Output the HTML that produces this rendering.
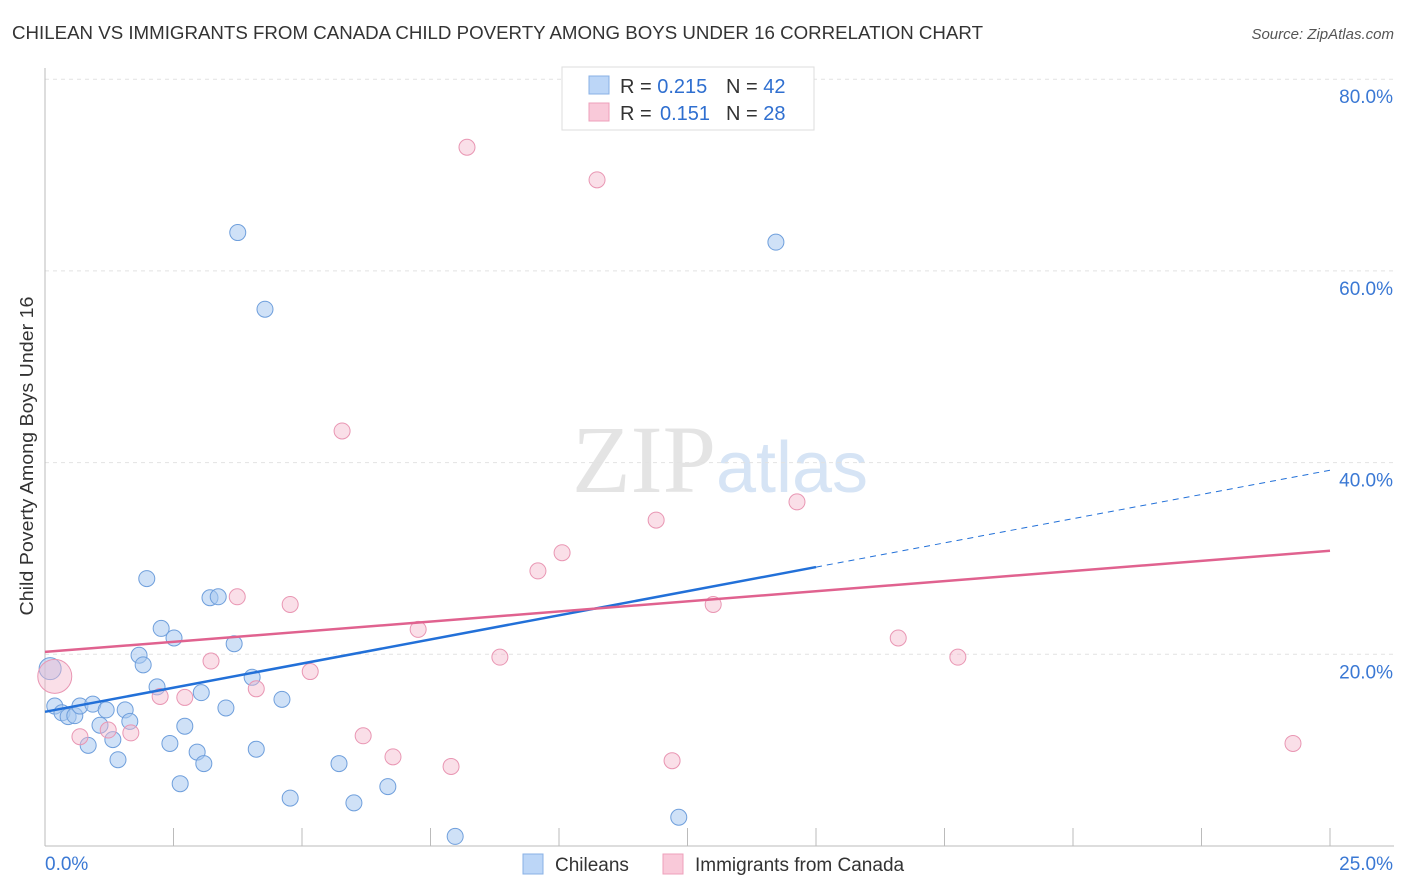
<!DOCTYPE html>
<html><head><meta charset="utf-8"><style>
body{margin:0;background:#fff;font-family:"Liberation Sans",sans-serif;}
svg{display:block}
</style></head><body>
<svg id="chart" width="1406" height="892">
<text x="12" y="39" font-size="18" fill="#333" textLength="971" lengthAdjust="spacingAndGlyphs">CHILEAN VS IMMIGRANTS FROM CANADA CHILD POVERTY AMONG BOYS UNDER 16 CORRELATION CHART</text>
<text x="1394" y="39" font-size="15" fill="#555" font-style="italic" text-anchor="end">Source: ZipAtlas.com</text>
<text x="720" y="492" font-size="96" fill="#e4e4e4" text-anchor="middle" font-family="Liberation Serif,serif"><tspan>ZIP</tspan><tspan fill="#d6e4f5" font-family="Liberation Sans,sans-serif" font-size="72">atlas</tspan></text>
<g id="grid"></g><g id="axes"></g><g id="marks"></g>
<text transform="translate(33,456) rotate(-90)" font-size="18" fill="#333" text-anchor="middle" textLength="319" lengthAdjust="spacingAndGlyphs">Child Poverty Among Boys Under 16</text>
<g>
<rect x="562" y="67" width="252" height="63" fill="#fff" stroke="#ddd"/>
<rect x="589" y="76" width="20" height="18" fill="#bcd6f7" stroke="#88b0e6"/>
<rect x="589" y="103" width="20" height="18" fill="#f9c9d9" stroke="#eea0bb"/>
<text x="620" y="93" font-size="20" fill="#333">R = <tspan fill="#2f6fd0">0.215</tspan><tspan x="726">N = </tspan><tspan fill="#2f6fd0">42</tspan></text>
<text x="620" y="120" font-size="20" fill="#333">R = <tspan x="660" fill="#2f6fd0">0.151</tspan><tspan x="726">N = </tspan><tspan fill="#2f6fd0">28</tspan></text>
</g>
<g>
<rect x="523" y="854" width="20" height="20" fill="#bcd6f7" stroke="#88b0e6"/>
<text x="555" y="871" font-size="19" fill="#333">Chileans</text>
<rect x="663" y="854" width="20" height="20" fill="#f9c9d9" stroke="#eea0bb"/>
<text x="695" y="871" font-size="19" fill="#333">Immigrants from Canada</text>
</g>
</svg>
<script>
const blueX=[0.10,0.19,0.33,0.45,0.58,0.68,0.84,0.93,1.07,1.19,1.32,1.42,1.56,1.65,1.83,1.91,1.98,2.18,2.26,2.43,2.51,2.63,2.72,2.96,3.04,3.09,3.21,3.37,3.52,3.68,3.75,4.03,4.11,4.28,4.61,4.77,5.72,6.01,6.67,7.98,12.33,14.22];
const blueY=[18.5,14.6,13.9,13.5,13.6,14.6,10.5,14.8,12.6,14.2,11.1,9.0,14.2,13.0,19.9,18.9,27.9,16.6,22.7,10.7,21.7,6.5,12.5,9.8,16.0,8.6,25.9,26.0,14.4,21.1,64.0,17.6,10.1,56.0,15.3,5.0,8.6,4.5,6.2,1.0,3.0,63.0];
const pinkX=[0.19,0.68,1.23,1.67,2.24,2.72,3.23,3.74,4.11,4.77,5.16,5.78,6.19,6.77,7.26,7.90,8.21,8.85,9.59,10.06,10.74,11.89,12.20,13.00,14.63,16.60,17.76,24.28];
const pinkY=[17.7,11.4,12.1,11.8,15.6,15.5,19.3,26.0,16.4,25.2,18.2,43.3,11.5,9.3,22.6,8.3,72.9,19.7,28.7,30.6,69.5,34.0,8.9,25.2,35.9,21.7,19.7,10.7];
const blueTrend=[14.0,29.1,39.2]; // at x=0, 15, 25
const pinkTrend=[20.25,30.8]; // at x=0, 25
const yTicks=[20,40,60,80];
const xTickVals=[0,2.5,5,7.5,10,12.5,15,17.5,20,22.5,25];
const NS="http://www.w3.org/2000/svg";
const sx=v=>45+v*51.4, sy=v=>846-v*9.585;
function mk(t,a,p){const e=document.createElementNS(NS,t);for(const k in a)e.setAttribute(k,a[k]);p.appendChild(e);return e;}
const grid=document.getElementById('grid'),axes=document.getElementById('axes'),marks=document.getElementById('marks');
yTicks.forEach(v=>{
 const l=mk('line',{x1:45,x2:1394,y1:sy(v),y2:sy(v),stroke:'#e2e2e2','stroke-dasharray':'4,4'},grid);
 
 
 const t=mk('text',{x:1393,y:sy(v)+24,'font-size':19,fill:'#3a78d4','text-anchor':'end'},axes);
 t.textContent=v.toFixed(1)+'%';
 
 
});
const xa=mk('line',{x1:45,x2:1394,y1:846,y2:846,stroke:'#bbb'},axes);


const ya=mk('line',{x1:45,x2:45,y1:68,y2:846,stroke:'#bbb'},axes);


xTickVals.forEach(v=>{const t=mk('line',{x1:sx(v),x2:sx(v),y1:828,y2:846,stroke:'#bbb'},axes);
 
 });
[[0,'0.0%','start',45],[25,'25.0%','end',1393]].forEach(a=>{const t=mk('text',{x:a[3],y:870,'font-size':19,fill:'#3a78d4','text-anchor':a[2]},axes);t.textContent=a[1];
 
 });
blueX.forEach((x,i)=>{const c=mk('circle',{cx:sx(x),cy:sy(blueY[i]),r:i==0?11:8,fill:'rgba(168,200,240,0.55)',stroke:'#6f9fdc','stroke-width':1},marks);
 
 });
pinkX.forEach((x,i)=>{const c=mk('circle',{cx:sx(x),cy:sy(pinkY[i]),r:i==0?17:8,fill:'rgba(245,184,204,0.45)',stroke:'#e996b3','stroke-width':1},marks);
 
 });
const b1=mk('line',{x1:sx(0),y1:sy(blueTrend[0]),x2:sx(15),y2:sy(blueTrend[1]),stroke:'#2270d8','stroke-width':2.5},marks);


const b2=mk('line',{x1:sx(15),y1:sy(blueTrend[1]),x2:sx(25),y2:sy(blueTrend[2]),stroke:'#2270d8','stroke-width':1,'stroke-dasharray':'6,5'},marks);


const p1=mk('line',{x1:sx(0),y1:sy(pinkTrend[0]),x2:sx(25),y2:sy(pinkTrend[1]),stroke:'#e0628f','stroke-width':2.5},marks);


</script>
</body></html>
